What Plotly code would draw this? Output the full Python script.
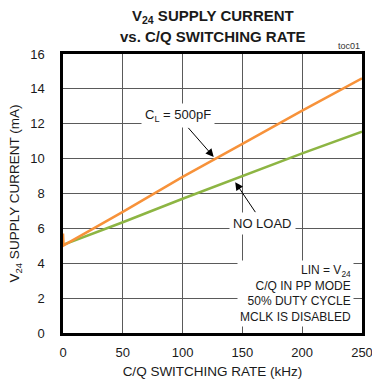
import plotly.graph_objects as go

# Data
rate_cl = [0, 0.5, 50, 100, 150, 200, 250]
current_cl = [5.7, 5.02, 6.95, 8.95, 10.85, 12.75, 14.6]
rate_noload = [0, 50, 100, 150, 200, 250]
current_noload = [5.05, 6.35, 7.7, 9.0, 10.3, 11.55]
x_ticks = [0, 50, 100, 150, 200, 250]
y_ticks = [0, 2, 4, 6, 8, 10, 12, 14, 16]

FONT = "Liberation Sans, Arial, sans-serif"
ORANGE = "#F7923A"
GREEN = "#8DB543"
GRID = "#5a5a5a"
TXT = "#1a1a1a"

fig = go.Figure()
fig.add_trace(go.Scatter(x=rate_noload, y=current_noload, mode="lines", cliponaxis=False,
                         line=dict(color=GREEN, width=2.5), showlegend=False))
fig.add_trace(go.Scatter(x=rate_cl, y=current_cl, mode="lines", cliponaxis=False,
                         line=dict(color=ORANGE, width=2.5), showlegend=False))

axis_common = dict(showgrid=True, gridcolor=GRID, gridwidth=1.3, zeroline=False,
                   showline=True, linecolor="black", linewidth=2.5, mirror=True,
                   automargin=False, ticks="", ticklabeloverflow="allow",
                   layer="below traces",
                   tickfont=dict(family=FONT, size=13, color=TXT))

fig.update_layout(
    width=372, height=383,
    margin=dict(l=63, r=10, t=54, b=50),
    paper_bgcolor="white", plot_bgcolor="white",
    font=dict(family=FONT, size=13, color=TXT),
    xaxis=dict(range=[0, 250], tickvals=x_ticks, ticklabelstandoff=6,
               title=dict(text="C/Q SWITCHING RATE (kHz)", standoff=8,
                          font=dict(family=FONT, size=13.5)),
               **axis_common),
    yaxis=dict(range=[0, 16], tickvals=y_ticks, ticklabelstandoff=13,
               title=dict(text="V<sub>24</sub> SUPPLY CURRENT (mA)", standoff=8,
                          font=dict(family=FONT, size=13.5)),
               **axis_common),
)

annos = []
# Title (two lines)
annos.append(dict(x=0.5, y=1, xref="paper", yref="paper", yanchor="bottom", yshift=26,
                  text="<b>V<sub>24</sub> SUPPLY CURRENT</b>", showarrow=False,
                  font=dict(family=FONT, size=15, color=TXT)))
annos.append(dict(x=0.5, y=1, xref="paper", yref="paper", yanchor="bottom", yshift=7,
                  text="<b>vs. C/Q SWITCHING RATE</b>", showarrow=False,
                  font=dict(family=FONT, size=15, color=TXT)))
# C_L label with arrow to orange curve
annos.append(dict(x=126, y=10.1, ax=96, ay=12.45, axref="x", ayref="y",
                  text="C<sub>L</sub> = 500pF", showarrow=True, arrowhead=2, arrowsize=1.6,
                  arrowwidth=1, arrowcolor="black", bgcolor="white", borderpad=3,
                  font=dict(family=FONT, size=13, color=TXT)))
# NO LOAD label with arrow to green curve
annos.append(dict(x=144, y=8.65, ax=167, ay=6.3, axref="x", ayref="y",
                  text="NO LOAD", showarrow=True, arrowhead=2, arrowsize=1.6,
                  arrowwidth=1, arrowcolor="black", bgcolor="white", borderpad=3,
                  font=dict(family=FONT, size=13, color=TXT)))
# Conditions block
annos.append(dict(x=243, y=0.35, xanchor="right", yanchor="bottom", align="right",
                  text="LIN = V<sub>24</sub><br>C/Q IN PP MODE<br>50% DUTY CYCLE<br>MCLK IS DISABLED",
                  showarrow=False, bgcolor="white", borderpad=2,
                  font=dict(family=FONT, size=12, color=TXT)))
# toc01
annos.append(dict(x=1, y=1, xref="paper", yref="paper", xanchor="right", yanchor="bottom",
                  yshift=1, text="toc01", showarrow=False,
                  font=dict(family=FONT, size=9, color="#333")))
fig.update_layout(annotations=annos)

fig.write_html("out.html", config={"displayModeBar": False},
               post_script="document.body.style.margin='0';")
